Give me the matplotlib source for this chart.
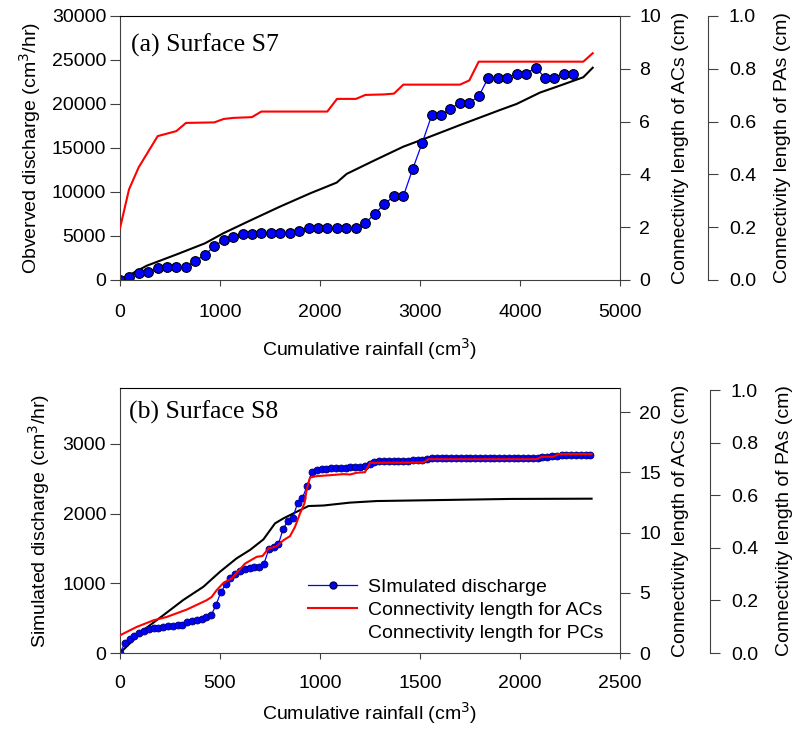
import matplotlib
matplotlib.use("Agg")
import matplotlib.pyplot as plt
from matplotlib.lines import Line2D

plt.rcParams["font.family"] = ["Liberation Sans", "DejaVu Sans"]
plt.rcParams["font.size"] = 14

# ---- panel (a): surface S7 ----
rain_a_obs = [0, 90, 187, 280, 377, 470, 563, 660, 753, 850, 943, 1037, 1133, 1227,
              1320, 1413, 1507, 1603, 1697, 1790, 1887, 1980, 2073, 2170, 2263, 2360,
              2453, 2550, 2643, 2740, 2833, 2927, 3023, 3117, 3210, 3303, 3400, 3493,
              3587, 3683, 3777, 3870, 3967, 4060, 4157, 4250, 4343, 4440, 4533]
obs_a = [0, 380, 760, 910, 1330, 1480, 1480, 1480, 2160, 2880, 3830, 4550, 4890, 5190,
         5190, 5380, 5380, 5380, 5380, 5610, 5910, 5910, 5910, 5910, 5910, 5910,
         6480, 7540, 8640, 9510, 9510, 12610, 15610, 18710, 18710, 19430, 20150, 20150,
         20870, 22990, 22990, 22990, 23450, 23450, 24130, 22990, 22990, 23450, 23450]

rain_a_ac = [0, 90, 187, 377, 563, 660, 943, 1037, 1133, 1320, 1413, 2073, 2170, 2360,
             2453, 2643, 2740, 2833, 3400, 3493, 3587, 4633, 4727]
ac_a = [1.96, 3.43, 4.27, 5.45, 5.64, 5.95, 5.97, 6.10, 6.14, 6.17, 6.38, 6.38, 6.86,
        6.86, 7.01, 7.03, 7.06, 7.40, 7.40, 7.56, 8.27, 8.27, 8.59]

rain_a_pa = [0, 267, 567, 850, 1033, 1300, 1600, 1900, 2167, 2267, 2533, 2833, 3100,
             3400, 3667, 3800, 3967, 4200, 4367, 4633, 4727]
pa_a = [0, 0.054, 0.097, 0.139, 0.177, 0.225, 0.278, 0.328, 0.369, 0.402, 0.451, 0.505,
        0.543, 0.587, 0.625, 0.644, 0.667, 0.710, 0.732, 0.768, 0.804]

# ---- panel (b): surface S8 ----
rain_b_sim = [0, 24, 48, 72, 96, 120, 144, 168, 192, 216, 240, 264, 288, 312, 336, 360,
              384, 408, 432, 456, 480, 504, 528, 552, 576, 600, 624, 648, 672, 696, 720,
              744, 768, 792, 816, 840, 864, 888, 912, 936, 960, 984, 1008, 1032, 1056,
              1080, 1104, 1128, 1152, 1176, 1200, 1224, 1248, 1272, 1296, 1320, 1344,
              1368, 1392, 1416, 1440, 1464, 1488, 1512, 1536, 1560, 1584, 1608, 1632,
              1656, 1680, 1704, 1728, 1752, 1776, 1800, 1824, 1848, 1872, 1896, 1920,
              1944, 1968, 1992, 2016, 2040, 2064, 2088, 2112, 2136, 2160, 2184, 2208,
              2232, 2256, 2280, 2304, 2328, 2352]
sim_b = [0, 140, 200, 245, 285, 318, 337, 352, 365, 374, 383, 391, 396, 405, 450, 460,
         470, 490, 510, 540, 690, 870, 985, 1070, 1130, 1170, 1205, 1225, 1229, 1232, 1280,
         1490, 1520, 1560, 1780, 1900, 1940, 2150, 2220, 2400, 2600, 2628, 2636, 2643,
         2648, 2652, 2656, 2660, 2663, 2666, 2670, 2680, 2715, 2745, 2750, 2752, 2754,
         2755, 2756, 2758, 2760, 2762, 2765, 2770, 2785, 2790, 2790, 2790, 2790, 2790,
         2790, 2790, 2790, 2790, 2790, 2790, 2790, 2790, 2790, 2790, 2790, 2790, 2790,
         2790, 2790, 2790, 2790, 2790, 2805, 2812, 2818, 2830, 2838, 2840, 2840, 2840,
         2840, 2840, 2840]

rain_b_ac = [0, 83, 167, 233, 333, 433, 458, 483, 517, 558, 625, 683, 713, 742, 783,
             817, 850, 875, 900, 922, 933, 950, 983, 1050, 1117, 1150, 1183, 1225, 1250,
             1517, 1542, 2083, 2108, 2167, 2192, 2358]
ac_b = [1.47, 2.16, 2.71, 2.99, 3.60, 4.38, 4.65, 5.21, 5.82, 6.18, 7.42, 7.98, 8.06,
        8.67, 8.86, 9.36, 9.70, 10.47, 11.58, 12.41, 13.52, 14.57, 14.68, 14.76, 14.85,
        14.82, 14.96, 15.01, 15.79, 15.82, 16.09, 16.09, 16.29, 16.29, 16.51, 16.51]

rain_b_pa = [0, 117, 217, 317, 417, 500, 583, 650, 717, 775, 817, 883, 942, 1017, 1150,
             1283, 1617, 1950, 2358]
pa_b = [0, 0.087, 0.144, 0.202, 0.252, 0.309, 0.360, 0.392, 0.432, 0.493, 0.512, 0.537,
        0.559, 0.561, 0.572, 0.578, 0.582, 0.586, 0.587]

pa_ticks = [0, 0.2, 0.4, 0.6, 0.8, 1.0]
pa_labels = ["0.0", "0.2", "0.4", "0.6", "0.8", "1.0"]

SPINE = "#404040"


def make_panel(fig, rect, xmax, xstep, ylim_l, ylim_ac, ylim_pa, pa_pos, xpad, xlpad):
    ax = fig.add_axes(rect)
    ax2 = ax.twinx()
    ax3 = ax.twinx()
    # black behind, blue in the middle, red on top
    ax3.set_zorder(1)
    ax.set_zorder(2)
    ax2.set_zorder(3)
    for a in (ax, ax2):
        a.patch.set_visible(False)

    ax.set_xlim(0, xmax)
    ax.set_xticks(range(0, xmax + 1, xstep))
    ax.set_ylim(*ylim_l)
    ax2.set_ylim(*ylim_ac)
    ax3.set_ylim(*ylim_pa)

    ax.spines["right"].set_visible(False)
    ax.spines["left"].set_color(SPINE)
    ax.spines["bottom"].set_color(SPINE)
    ax.spines["top"].set_color("black")
    for s in ("left", "top", "bottom"):
        ax2.spines[s].set_visible(False)
        ax3.spines[s].set_visible(False)
    ax2.spines["right"].set_color(SPINE)
    ax3.spines["right"].set_color(SPINE)
    ax3.spines["right"].set_position(("axes", pa_pos))
    ax3.spines["right"].set_bounds(0, 1)

    ax.tick_params(axis="y", direction="out", length=7, color=SPINE, pad=3)
    ax.tick_params(axis="x", direction="out", length=4, color=SPINE, pad=xpad)
    ax2.tick_params(axis="y", direction="out", length=7, color=SPINE, pad=7)
    ax3.tick_params(axis="y", direction="out", length=7, color=SPINE, pad=8)
    ax3.set_yticks(pa_ticks)
    ax3.set_yticklabels(pa_labels)
    ax.set_xlabel("Cumulative rainfall (cm$^3$)", labelpad=xlpad)
    ax2.set_ylabel("Connectivity length of ACs (cm)", labelpad=8)
    ax3.set_ylabel("Connectivity length of PAs (cm)", labelpad=13)
    return ax, ax2, ax3


fig = plt.figure(figsize=(7.98, 7.30), dpi=100)

# panel (a)
ax, ax2, ax3 = make_panel(fig, [120 / 798, 1 - 280 / 730, 500 / 798, 264 / 730],
                          5000, 1000, (0, 30000), (0, 10), (0, 1), 1.176, 13, 11)
ax.set_yticks(range(0, 30001, 5000))
ax2.set_yticks(range(0, 11, 2))
ax.plot(rain_a_obs, obs_a, color="blue", lw=0.9, marker="o", ms=7,
        mfc="blue", mec="black", mew=0.8)
ax2.plot(rain_a_ac, ac_a, color="red", lw=1.5)
ax3.plot(rain_a_pa, pa_a, color="black", lw=1.5)
ax.set_ylabel("Obverved discharge (cm$^3$/hr)", labelpad=6)
ax.text(0.022, 0.867, "(a) Surface S7", transform=ax.transAxes,
        fontsize=18.5, family="Liberation Serif")

# panel (b)
bx, bx2, bx3 = make_panel(fig, [120 / 798, 1 - 653 / 730, 500 / 798, 265 / 730],
                          2500, 500, (0, 3800), (0, 22), (0, 1.008), 1.18, 12, 6)
bx.set_yticks(range(0, 3001, 1000))
bx2.set_yticks(range(0, 21, 5))
bx.plot(rain_b_sim, sim_b, color="blue", lw=0.9, marker="o", ms=5,
        mfc="blue", mec="#000066", mew=0.6)
h2, = bx2.plot(rain_b_ac, ac_b, color="red", lw=1.5)
bx3.plot(rain_b_pa, pa_b, color="black", lw=1.5)
bx.set_ylabel("Simulated discharge (cm$^3$/hr)", labelpad=8)
bx.text(0.018, 0.883, "(b) Surface S8", transform=bx.transAxes,
        fontsize=18.5, family="Liberation Serif")

h1 = Line2D([], [], color="blue", lw=0.9, marker="o", ms=5, mfc="blue", mec="#000066")
h3 = Line2D([], [], color="none")
bx.legend([h1, h2, h3],
          ["SImulated discharge", "Connectivity length for ACs", "Connectivity length for PCs"],
          loc="lower right", bbox_to_anchor=(0.966, 0.04), frameon=False, fontsize=14,
          handlelength=2.5, handletextpad=0.55, labelspacing=0.3,
          borderpad=0, borderaxespad=0)

fig.savefig("out.png", dpi=100)
